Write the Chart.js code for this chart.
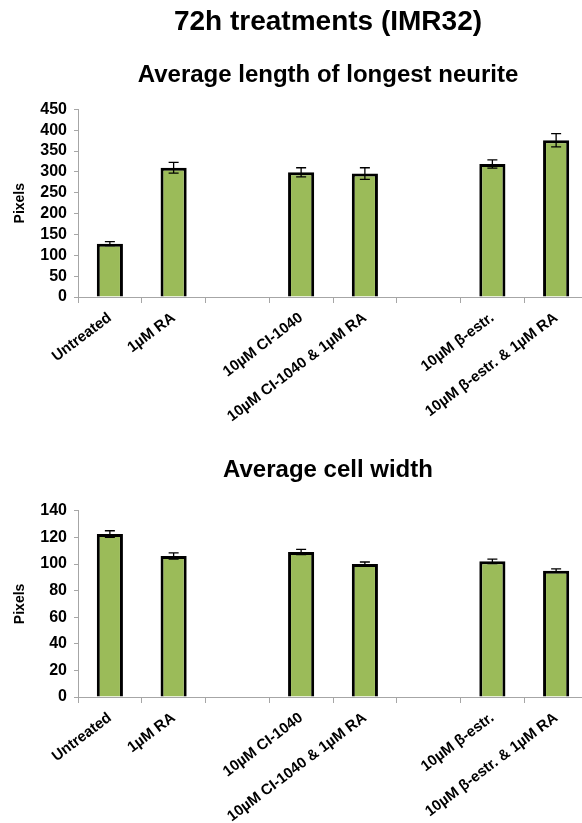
<!DOCTYPE html>
<html>
<head>
<meta charset="utf-8">
<script src="https://cdn.jsdelivr.net/npm/chart.js@4"></script>
<style>
  html, body { margin: 0; padding: 0; background: #fff; overflow: hidden; width: 582px; height: 823px; }
  .box { position: absolute; left: 0; }
</style>
</head>
<body>
<div class="box" style="top:0"><canvas id="neurite" width="656" height="445"></canvas></div>
<div class="box" style="top:417px"><canvas id="width" width="656" height="406"></canvas></div>
<script>
const categories = ['Untreated', '1\u00b5M RA', '', '10\u00b5M CI-1040', '10\u00b5M CI-1040 & 1\u00b5M RA', '', '10\u00b5M \u03b2-estr.', '10\u00b5M \u03b2-estr. & 1\u00b5M RA'];
const neuriteLength = [128, 310, null, 299, 296, null, 319, 376];
const neuriteError = [5, 13, null, 11, 14, null, 10, 16];
const cellWidth = [122.5, 106, null, 109, 100, null, 102, 95];
const cellWidthError = [2.5, 2.3, null, 2, 1.5, null, 1.7, 1.3];

const FONT = "'Liberation Sans', Arial, sans-serif";

// error bars drawn on top of the bars through the y scale
const errorBars = {
    id: 'errorBars',
    afterDatasetsDraw(chart, args, opts) {
        const meta = chart.getDatasetMeta(0);
        const values = chart.data.datasets[0].data;
        const y = chart.scales.y;
        const ctx = chart.ctx;
        ctx.save();
        ctx.strokeStyle = '#000';
        ctx.lineWidth = 1.3;
        meta.data.forEach(function(bar, i) {
            const v = values[i], e = opts.errors[i];
            if (v == null || e == null) return;
            const top = y.getPixelForValue(v + e);
            const bot = y.getPixelForValue(v - e);
            const x = bar.x, cap = 5;
            ctx.beginPath();
            ctx.moveTo(x, top); ctx.lineTo(x, bot);
            ctx.moveTo(x - cap, top); ctx.lineTo(x + cap, top);
            ctx.moveTo(x - cap, bot); ctx.lineTo(x + cap, bot);
            ctx.stroke();
        });
        ctx.restore();
    }
};

function makeChart(id, values, errors, yMax, step, xHeight, titles) {
    const ctx = document.getElementById(id).getContext('2d');
    return new Chart(ctx, {
        type: 'bar',
        data: {
            labels: categories,
            datasets: [{
                data: values,
                backgroundColor: '#9BBB59',
                borderColor: '#000',
                borderWidth: 3,
                barPercentage: 0.41,
                categoryPercentage: 1
            }]
        },
        options: {
            responsive: false,
            animation: false,
            devicePixelRatio: 1,
            layout: { padding: 0 },
            plugins: {
                legend: { display: false },
                tooltip: { enabled: false },
                title: titles.title,
                subtitle: titles.subtitle,
                errorBars: { errors: errors }
            },
            scales: {
                x: {
                    afterFit: function(s) { s.height = xHeight; },
                    grid: { display: true, drawOnChartArea: false, offset: true, color: '#a6a6a6', tickLength: 6 },
                    border: { color: '#a6a6a6', width: 1 },
                    ticks: {
                        autoSkip: false,
                        minRotation: 37,
                        maxRotation: 37,
                        padding: 6,
                        color: '#000',
                        font: { family: FONT, size: 15, weight: 'bold' }
                    }
                },
                y: {
                    min: 0,
                    max: yMax,
                    afterFit: function(s) { s.width = 78; },
                    grid: { display: true, drawOnChartArea: false, color: '#a6a6a6', tickLength: 4 },
                    border: { color: '#a6a6a6', width: 1 },
                    ticks: {
                        stepSize: step,
                        autoSkip: false,
                        padding: 7,
                        color: '#000',
                        font: { family: FONT, size: 16, weight: 'bold' }
                    },
                    title: {
                        display: true,
                        text: 'Pixels',
                        color: '#000',
                        padding: { top: 12, bottom: 0 },
                        font: { family: FONT, size: 14, weight: 'bold' }
                    }
                },
                // empty right-hand axis keeps the plot narrower than the title box
                right: {
                    position: 'right',
                    display: true,
                    afterFit: function(s) { s.width = 68; },
                    grid: { display: false },
                    border: { display: false },
                    ticks: { display: false }
                }
            }
        },
        plugins: [errorBars]
    });
}

makeChart('neurite', neuriteLength, neuriteError, 450, 50, 148, {
    title: {
        display: true,
        text: '72h treatments (IMR32)',
        color: '#000',
        padding: { top: 5, bottom: 0 },
        font: { family: FONT, size: 28, weight: 'bold' }
    },
    subtitle: {
        display: true,
        text: 'Average length of longest neurite',
        color: '#000',
        padding: { top: 22, bottom: 20 },
        font: { family: FONT, size: 24, weight: 'bold' }
    }
});

makeChart('width', cellWidth, cellWidthError, 140, 20, 126, {
    title: {
        display: true,
        text: 'Average cell width',
        color: '#000',
        padding: { top: 39, bottom: 26 },
        font: { family: FONT, size: 24, weight: 'bold' }
    },
    subtitle: { display: false }
});
</script>
</body>
</html>
